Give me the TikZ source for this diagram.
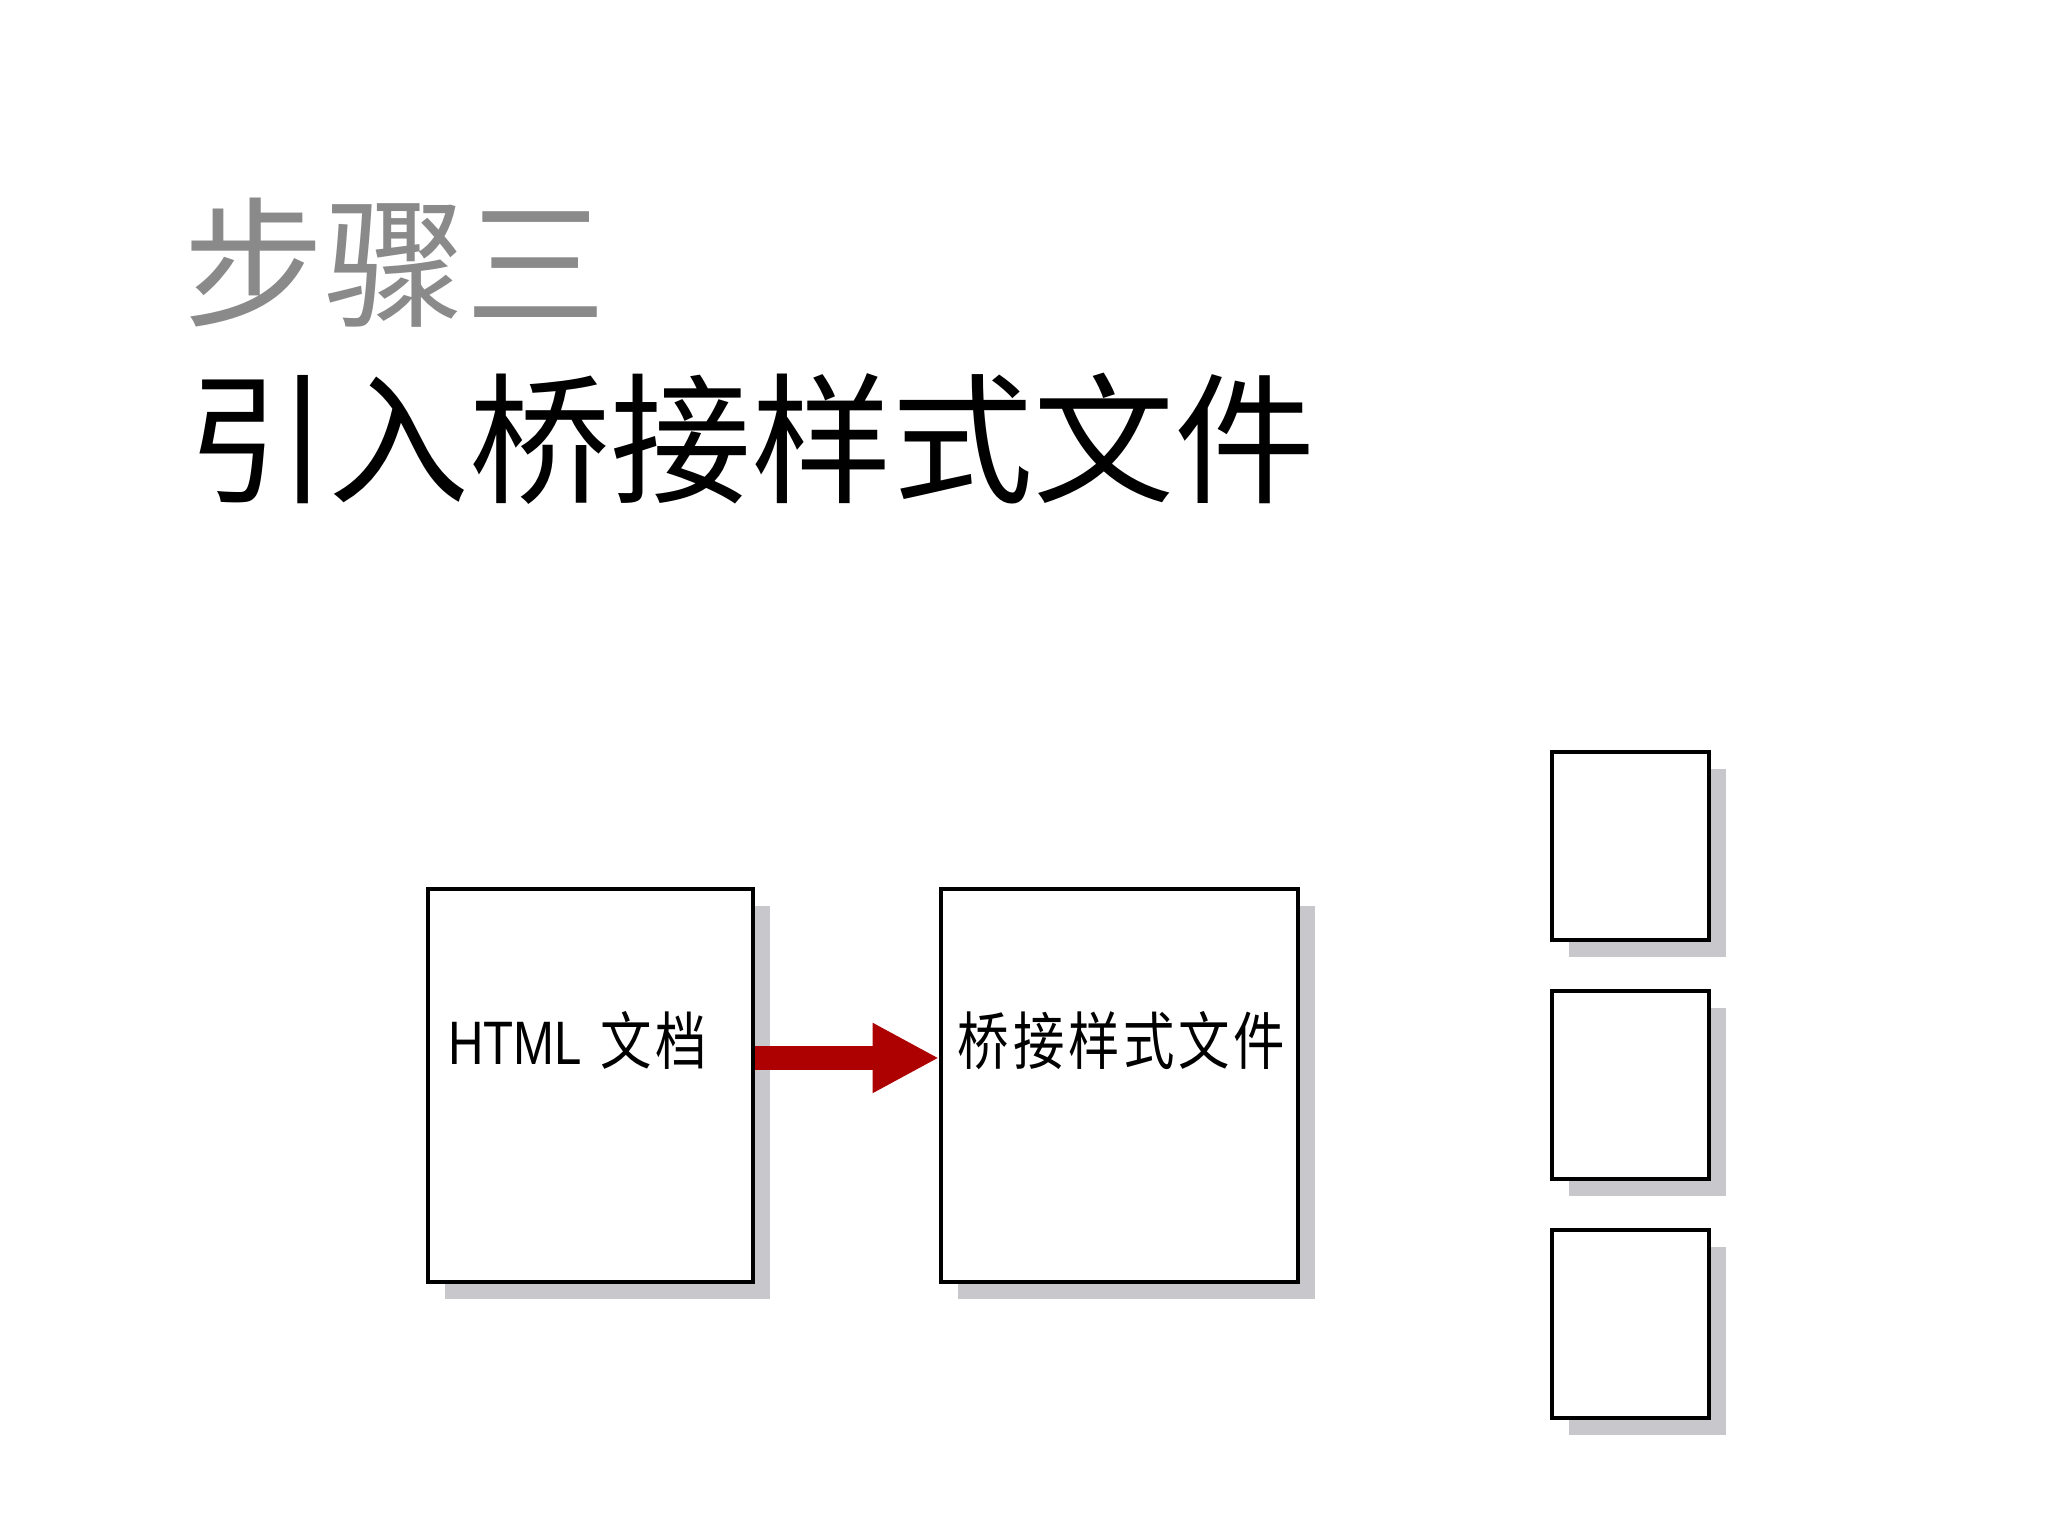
\documentclass[tikz,border=0pt]{standalone}
\usepackage{fontspec}
\usetikzlibrary{arrows.meta,shadows}
\newfontfamily\cjk{Noto Sans CJK SC}
\newfontfamily\cjknarrow[FakeStretch=0.82,LetterSpace=6]{Noto Sans CJK SC}
\newfontfamily\latnarrow[FakeStretch=0.8]{Liberation Sans}
\definecolor{titlegray}{HTML}{8A8A8A}
\definecolor{shadowc}{HTML}{C8C8CC}
\definecolor{arrowred}{HTML}{AD0000}
\tikzset{
  docbox/.style={draw=black, line width=1.5pt, fill=white, rectangle, inner sep=0pt,
    drop shadow={shadow xshift=6.5pt, shadow yshift=-6.5pt, fill=shadowc, opacity=1}},
  boxtext/.style={inner sep=0pt, anchor=base west, font=\fontsize{24pt}{24pt}\selectfont},
  blockarrow/.style={draw=arrowred, line width=9pt, -{Triangle[length=25.5pt,width=25pt,sharp]}, fill=arrowred}
}
\begin{document}
\begin{tikzpicture}[x=0.5pt,y=-0.5pt]
\useasboundingbox (0,0) rectangle (1568,1176);
\fill[white] (0,0) rectangle (1568,1176);
% titles
\node[inner sep=0pt, anchor=base west, text=titlegray, font=\cjk\fontsize{54pt}{54pt}\selectfont] (title) at (140,242) {步骤三};
\node[inner sep=0pt, anchor=base west, text=black, font=\cjk\fontsize{54pt}{54pt}\selectfont] (subtitle) at (143,377) {引入桥接样式文件};
% main boxes
\node[docbox, anchor=north west, minimum width=124.5pt, minimum height=150.5pt] (html) at (326,679) {};
\node[docbox, anchor=north west, minimum width=136.5pt, minimum height=150.5pt] (bridge) at (719,679) {};
\node[boxtext] (htmltext) at (343,815) {{\latnarrow\fontsize{23.5pt}{24pt}\selectfont HTML}\hspace{7pt}{\cjknarrow 文档}};
\node[boxtext] (bridgetext) at (733,815) {\cjknarrow 桥接样式文件};
% arrow
\coordinate (ay) at (0,810);
\draw[blockarrow] (html.east |- ay) -- (bridge.west |- ay);
% right small boxes
\node[docbox, anchor=north west, minimum width=60pt, minimum height=72pt] (s1) at (1187,574) {};
\node[docbox, anchor=north west, minimum width=60pt, minimum height=72pt] (s2) at (1187,757) {};
\node[docbox, anchor=north west, minimum width=60pt, minimum height=72pt] (s3) at (1187,940) {};
\end{tikzpicture}
\end{document}
